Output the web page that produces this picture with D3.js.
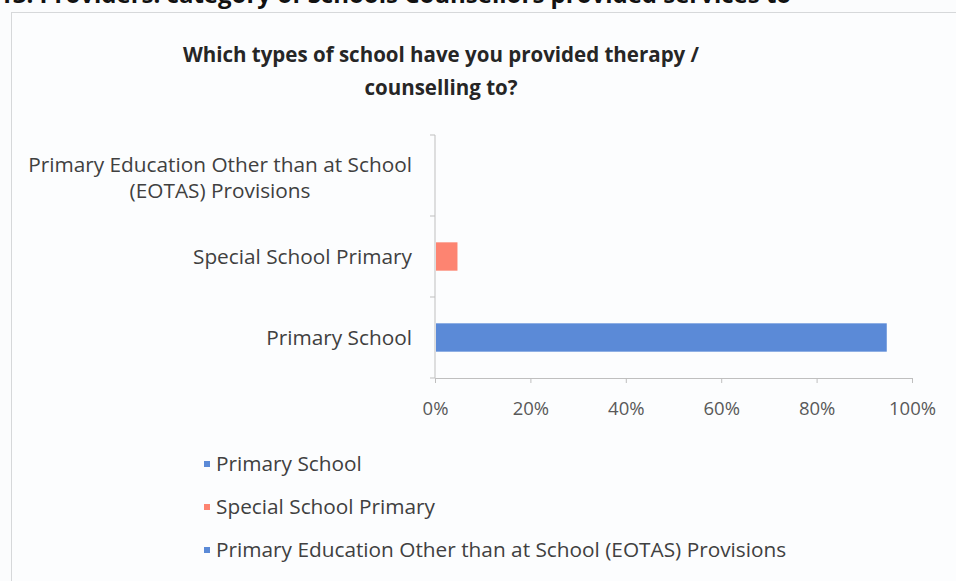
<!DOCTYPE html>
<html>
<head>
<meta charset="utf-8">
<script src="https://cdn.jsdelivr.net/npm/d3@7"></script>
<style>
  html, body { margin: 0; padding: 0; background: #fbfcfd; }
  svg { display: block; }
  text { font-family: "Open Sans", Lato, sans-serif; }
</style>
</head>
<body>
<svg id="chart" width="956" height="581"></svg>
<script>
// School types, listed bottom-to-top as they appear on the category axis
const categories = [
  "Primary School",
  "Special School Primary",
  "Primary Education Other than at School (EOTAS) Provisions"
];
// Share of respondents who provided therapy / counselling to each type
const shares = [0.945, 0.045, 0];
const barColors = ["#5b8ad7", "#fd8471", "#5b8ad7"];
const tickValues = [0, 0.2, 0.4, 0.6, 0.8, 1.0];
const titleLines = ["Which types of school have you provided therapy /", "counselling to?"];
const headerText = "13. Providers: category of Schools Counsellors provided services to";
// Wrapped versions of the category names for the axis
const categoryLabelLines = [
  ["Primary School"],
  ["Special School Primary"],
  ["Primary Education Other than at School", "(EOTAS) Provisions"]
];

const labelSize = 20.8;
const svg = d3.select("#chart");

// section heading above the chart frame
svg.append("text")
  .attr("x", -1).attr("y", 3)
  .attr("font-size", 24).attr("font-weight", 700).attr("fill", "#111")
  .text(headerText);

// chart frame
svg.append("rect")
  .attr("x", 11.5).attr("y", 12.5)
  .attr("width", 960).attr("height", 600)
  .attr("fill", "#fcfdfe").attr("stroke", "#d6d8da").attr("stroke-width", 1);

// title
svg.append("g").selectAll("text")
  .data(titleLines).join("text")
  .attr("x", 441).attr("y", (d, i) => 62 + i * 33)
  .attr("text-anchor", "middle")
  .attr("font-size", 20.5).attr("font-weight", 700).attr("fill", "#262626")
  .text(d => d);

const x = d3.scaleLinear().domain([0, 1]).range([435, 912]);
const y = d3.scaleBand()
  .domain(categories.slice().reverse())
  .range([135, 378])
  .paddingInner(0.65)
  .paddingOuter(0.325);

const axisColor = "#bfbfbf";

// x axis
const xAxis = svg.append("g")
  .attr("transform", "translate(0,378)")
  .call(d3.axisBottom(x).tickValues(tickValues).tickSize(5).tickFormat(d3.format(".0%")));
xAxis.select(".domain").attr("stroke", axisColor);
xAxis.selectAll(".tick line").attr("stroke", axisColor);
xAxis.selectAll(".tick text")
  .attr("y", 24).attr("font-size", 18.5).attr("fill", "#595959")
  .attr("font-family", "'Open Sans', Lato, sans-serif");

// y axis line and category boundary ticks
const step = y.step();
const y0 = y(y.domain()[0]) - step * y.paddingInner() / 2;
svg.append("line")
  .attr("x1", 435).attr("x2", 435)
  .attr("y1", 135).attr("y2", 378)
  .attr("stroke", axisColor);
svg.append("g").selectAll("line")
  .data(d3.range(categories.length + 1)).join("line")
  .attr("x1", 430).attr("x2", 435)
  .attr("y1", i => y0 + i * step).attr("y2", i => y0 + i * step)
  .attr("stroke", axisColor);

// bars
svg.append("g").selectAll("rect")
  .data(categories.map((c, i) => ({ c, v: shares[i], col: barColors[i] })))
  .join("rect")
  .attr("x", x(0) + 1)
  .attr("y", d => y(d.c))
  .attr("width", d => Math.max(0, x(d.v) - x(0)))
  .attr("height", y.bandwidth())
  .attr("fill", d => d.col);

// category labels (multi-line names centred within their own block)
const labelRight = 412;
categories.forEach((c, i) => {
  const lines = categoryLabelLines[i];
  const cy = y(c) + y.bandwidth() / 2;
  const g = svg.append("g");
  const texts = g.selectAll("text").data(lines).join("text")
    .attr("font-size", labelSize).attr("fill", "#404040")
    .attr("dy", "0.35em")
    .text(d => d);
  const widths = texts.nodes().map(n => n.getComputedTextLength());
  const maxW = d3.max(widths);
  const lh = 26;
  texts
    .attr("text-anchor", "middle")
    .attr("x", labelRight - maxW / 2)
    .attr("y", (d, j) => cy + (j - (lines.length - 1) / 2) * lh + (lines.length > 1 ? 2 : 0));
});

// legend
const legend = svg.append("g").selectAll("g")
  .data(categories).join("g")
  .attr("transform", (d, i) => `translate(204,${464 + i * 43})`);
legend.append("rect")
  .attr("x", 0).attr("y", -3).attr("width", 6).attr("height", 6)
  .attr("fill", (d, i) => barColors[i]);
legend.append("text")
  .attr("x", 12).attr("dy", "0.35em")
  .attr("font-size", labelSize).attr("fill", "#404040")
  .text(d => d);
</script>
</body>
</html>
